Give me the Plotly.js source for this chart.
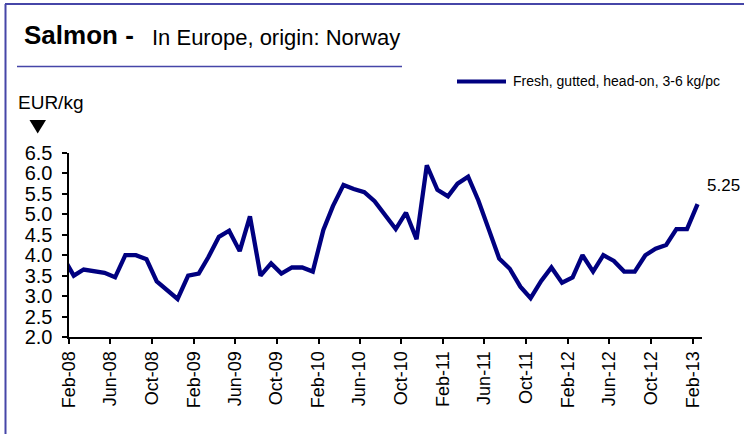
<!DOCTYPE html>
<html>
<head>
<meta charset="utf-8">
<script src="https://cdn.plot.ly/plotly-3.0.1.min.js"></script>
<style>
  html, body { margin: 0; padding: 0; background: #ffffff; }
  #chart { width: 744px; height: 434px; }
</style>
</head>
<body>
<div id="chart"></div>
<script>
// Salmon price, fresh gutted head-on 3-6 kg/pc, EUR/kg, monthly (Jan-08 .. Feb-13)
let firstMonth = { year: 2008, month: 1 }; // Jan-08, first point is cut by the axis
let prices = [
  3.95, // Jan-08
  3.50, 3.65, 3.62, 3.57, 3.46, 4.00, 4.00, 3.90, 3.36, 3.15, 2.93, // Feb-08 .. Dec-08
  3.50, 3.55, 3.95, 4.45, 4.60, 4.10, 4.95, 3.50, 3.80, 3.55, 3.70, 3.70, // 2009
  3.60, 4.62, 5.20, 5.72, 5.62, 5.54, 5.32, 4.99, 4.64, 5.04, 4.39, 6.20, // 2010
  5.60, 5.44, 5.75, 5.92, 5.34, 4.62, 3.92, 3.67, 3.23, 2.95, 3.37, 3.70, // 2011
  3.33, 3.46, 4.00, 3.60, 4.00, 3.86, 3.60, 3.60, 4.00, 4.16, 4.25, 4.64, // 2012
  4.64, 5.25 // Jan-13, Feb-13
];
let seriesName = 'Fresh, gutted, head-on, 3-6 kg/pc';
let lastLabel = '5.25';
let yTicks = ['2.0', '2.5', '3.0', '3.5', '4.0', '4.5', '5.0', '5.5', '6.0', '6.5'];

// mid-month dates for the points
let dates = [];
for (let i = 0; i < prices.length; i++) {
  let m = firstMonth.month - 1 + i;
  let y = firstMonth.year + Math.floor(m / 12);
  let mm = (m % 12) + 1;
  dates.push(y + '-' + (mm < 10 ? '0' + mm : mm) + '-15');
}

// plot area in pixels, used to place the decorations around it
const L = 69, R = 702, T = 153, B = 337;
const W = 744, H = 434;
function px(x) { return (x - L) / (R - L); }
function py(y) { return (B - y) / (B - T); }

const navy = '#000080';
const frame = '#4646a8';
const fontFam = '"Liberation Sans", Arial, sans-serif';

let trace = {
  x: dates,
  y: prices,
  type: 'scatter',
  mode: 'lines',
  name: seriesName,
  line: { color: navy, width: 4.3 },
  showlegend: false,
  hoverinfo: 'x+y'
};

let layout = {
  width: W,
  height: H,
  margin: { l: L, r: W - R, t: T, b: H - B, pad: 0 },
  paper_bgcolor: '#ffffff',
  plot_bgcolor: '#ffffff',
  font: { family: fontFam, color: '#000000', size: 17 },
  showlegend: false,
  xaxis: {
    type: 'date',
    range: ['2008-02-01', '2013-02-28'],
    tick0: '2008-02-01',
    dtick: 'M4',
    tickformat: '%b-%y',
    tickangle: -90,
    tickfont: { size: 18 },
    ticks: 'outside',
    ticklen: 5,
    tickwidth: 1.5,
    tickcolor: '#000000',
    showline: true,
    linecolor: '#000000',
    linewidth: 2,
    showgrid: false,
    zeroline: false,
    fixedrange: true
  },
  yaxis: {
    range: [2, 6.5],
    tickvals: yTicks.map(Number),
    ticktext: yTicks.map(t => t + '\u00a0'),
    tickfont: { size: 20 },
    ticks: 'outside',
    ticklen: 5,
    tickwidth: 1.5,
    tickcolor: '#000000',
    showline: true,
    linecolor: '#000000',
    linewidth: 2,
    showgrid: false,
    zeroline: false,
    fixedrange: true
  },
  shapes: [
    // frame (left and top edges)
    { type: 'line', xref: 'paper', yref: 'paper', x0: px(5.5), x1: px(5.5), y0: py(4), y1: py(440), line: { color: frame, width: 2 } },
    { type: 'line', xref: 'paper', yref: 'paper', x0: px(5), x1: px(750), y0: py(4), y1: py(4), line: { color: frame, width: 2 } },
    // rule under the title
    { type: 'line', xref: 'paper', yref: 'paper', x0: px(17), x1: px(402), y0: py(66.5), y1: py(66.5), line: { color: frame, width: 1.5 } },
    // legend sample
    { type: 'line', xref: 'paper', yref: 'paper', x0: px(457), x1: px(506), y0: py(81.5), y1: py(81.5), line: { color: navy, width: 4 } },
    // unit arrow
    { type: 'path', xref: 'paper', yref: 'paper',
      path: 'M ' + px(29.5) + ' ' + py(120) + ' L ' + px(46) + ' ' + py(120) + ' L ' + px(37.7) + ' ' + py(133.5) + ' Z',
      fillcolor: '#000000', line: { width: 0 } }
  ],
  annotations: [
    { xref: 'paper', yref: 'paper', x: px(22), y: py(35), xanchor: 'left', yanchor: 'middle',
      text: '<b>Salmon -</b>', showarrow: false, font: { size: 26 } },
    { xref: 'paper', yref: 'paper', x: px(150), y: py(37), xanchor: 'left', yanchor: 'middle',
      text: 'In Europe, origin: Norway', showarrow: false, font: { size: 22 } },
    { xref: 'paper', yref: 'paper', x: px(16), y: py(103), xanchor: 'left', yanchor: 'middle',
      text: 'EUR/kg', showarrow: false, font: { size: 19 } },
    { xref: 'paper', yref: 'paper', x: px(511), y: py(81), xanchor: 'left', yanchor: 'middle',
      text: seriesName, showarrow: false, font: { size: 14 } },
    { xref: 'paper', yref: 'paper', x: px(705), y: py(185), xanchor: 'left', yanchor: 'middle',
      text: lastLabel, showarrow: false, font: { size: 17 } }
  ]
};

Plotly.newPlot('chart', [trace], layout, { displayModeBar: false, staticPlot: false });
</script>
</body>
</html>
